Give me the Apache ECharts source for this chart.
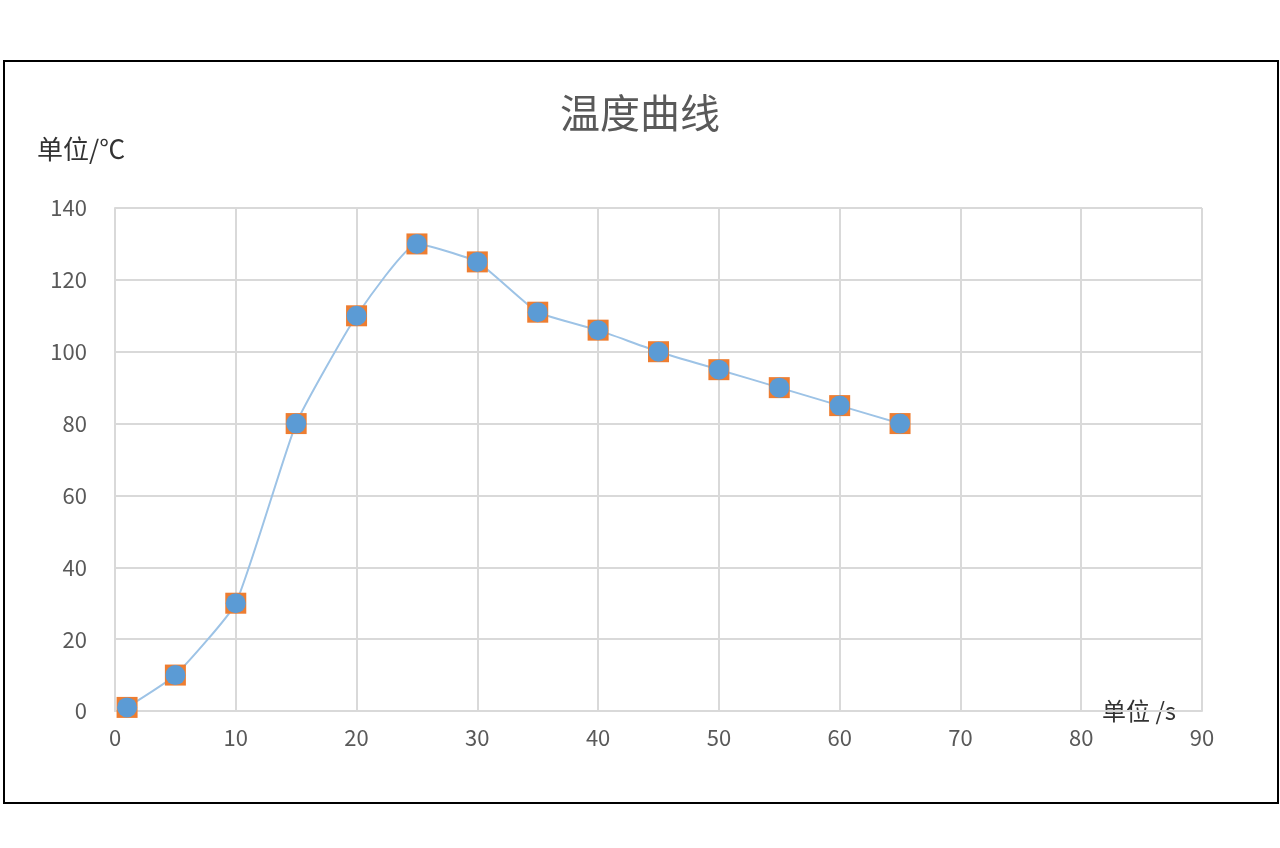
<!DOCTYPE html>
<html>
<head>
<meta charset="utf-8">
<script src="https://cdn.jsdelivr.net/npm/echarts@6/dist/echarts.min.js"></script>
<style>
  body { margin: 0; background: #fff; }
  #frame { position: absolute; left: 3px; top: 60px; width: 1272px; height: 740px; border: 2px solid #000; }
  #chart { position: absolute; left: 0; top: 0; width: 1280px; height: 848px; }
</style>
</head>
<body>
<div id="frame"></div>
<div id="chart"></div>
<script>
// time (s) and temperature (°C)
var times = [1, 5, 10, 15, 20, 25, 30, 35, 40, 45, 50, 55, 60, 65];
var temps = [1, 10, 30, 80, 110, 130, 125, 111, 106, 100, 95, 90, 85, 80];

var points = times.map(function (t, i) { return [t, temps[i]]; });

var myChart = echarts.init(document.getElementById('chart'));
var font = '"Noto Sans CJK SC", sans-serif';
myChart.setOption({
    animation: false,
    title: {
        text: '温度曲线', left: 'center', top: 88,
        textStyle: { fontFamily: font, fontSize: 40, fontWeight: 'normal', color: '#595959' }
    },
    grid: { left: 115, right: 78, top: 208, bottom: 137 },
    xAxis: {
        type: 'value', min: 0, max: 90, interval: 10,
        name: '单位 /s', nameLocation: 'end', nameGap: 0,
        nameTextStyle: { fontFamily: font, fontSize: 24, color: '#333', padding: [140, 0, 0, -100] },
        axisLine: { lineStyle: { color: '#d9d9d9', width: 2 } },
        axisTick: { show: false },
        axisLabel: { fontFamily: font, fontSize: 22, color: '#595959', margin: 16 },
        splitLine: { lineStyle: { color: '#d9d9d9', width: 2 } }
    },
    yAxis: {
        type: 'value', min: 0, max: 140, interval: 20,
        name: '单位/℃', nameLocation: 'end', nameGap: 46,
        nameTextStyle: { fontFamily: font, fontSize: 26, color: '#333', align: 'left', padding: [0, 0, 0, -78] },
        axisLine: { show: true, lineStyle: { color: '#d9d9d9', width: 2 } },
        axisTick: { show: false },
        axisLabel: { fontFamily: font, fontSize: 22, color: '#595959', margin: 28 },
        splitLine: { lineStyle: { color: '#d9d9d9', width: 2 } }
    },
    series: [
        {
            type: 'line', data: points, smooth: 0.15, symbol: 'none',
            lineStyle: { color: '#9dc3e6', width: 2 }, z: 2
        },
        {
            type: 'scatter', data: points, symbol: 'rect', symbolSize: 21,
            itemStyle: { color: '#ed7d31', opacity: 1 }, z: 3
        },
        {
            type: 'scatter', data: points, symbol: 'circle', symbolSize: 20,
            itemStyle: { color: '#5b9bd5', opacity: 1 }, z: 4
        }
    ]
});
</script>
</body>
</html>
